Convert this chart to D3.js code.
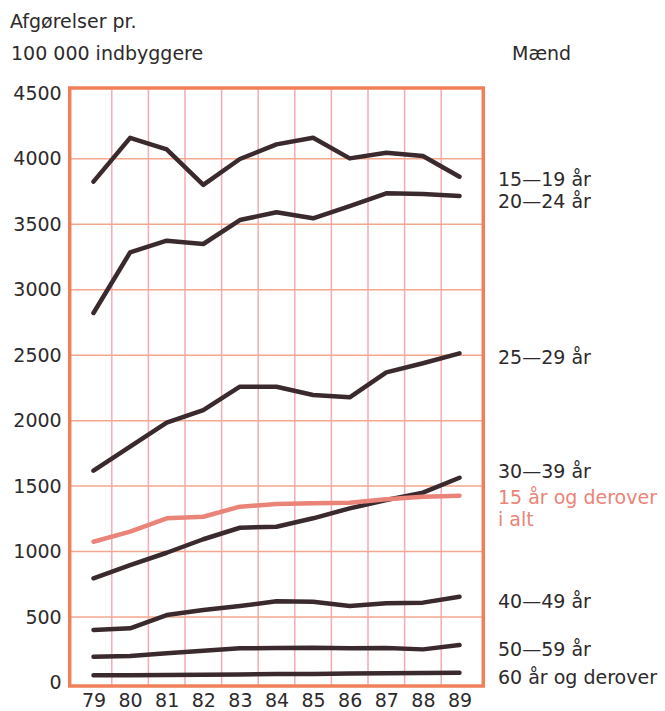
<!DOCTYPE html>
<html>
<head>
<meta charset="utf-8">
<script src="https://cdn.jsdelivr.net/npm/d3@7"></script>
<style>
  body { margin: 0; background: #fff; }
  text { font-family: "DejaVu Sans", sans-serif; fill: #2e2a2c; }
</style>
</head>
<body>
<div id="chart"></div>
<script>
// data
const years = [79, 80, 81, 82, 83, 84, 85, 86, 87, 88, 89]
const yTicks = [0, 500, 1000, 1500, 2000, 2500, 3000, 3500, 4000, 4500]

const age1519 = [3825, 4160, 4072, 3800, 3998, 4110, 4160, 4003, 4046, 4021, 3863]
const age2024 = [2822, 3285, 3374, 3349, 3532, 3591, 3545, 3639, 3736, 3731, 3715]
const age2529 = [1618, 1801, 1984, 2081, 2259, 2259, 2196, 2178, 2369, 2438, 2514]
const age3039 = [796, 897, 991, 1094, 1182, 1190, 1254, 1330, 1394, 1450, 1564]
const total15 = [1075, 1152, 1254, 1266, 1343, 1363, 1369, 1373, 1399, 1419, 1427]
const age4049 = [401, 414, 515, 554, 584, 620, 617, 584, 605, 610, 655]
const age5059 = [197, 202, 223, 243, 261, 263, 266, 261, 263, 253, 286]
const age60 = [55, 55, 57, 60, 62, 65, 65, 68, 70, 72, 74]

const seriesNames = ["15—19 år", "20—24 år", "25—29 år", "30—39 år", "15 år og derover", "40—49 år", "50—59 år", "60 år og derover"]
const seriesValues = [age1519, age2024, age2529, age3039, total15, age4049, age5059, age60]

const width = 665, height = 711
const dark = "#3a2a2e", pink = "#ea8478"
const fontSize = "19px"

const svg = d3.select("#chart").append("svg")
    .attr("width", width)
    .attr("height", height)

const x = d3.scaleLinear().domain([79, 89]).range([93.5, 459.5])
const y = d3.scaleLinear().domain([0, 4500]).range([682.5, 93.3])

const plotLeft = x(78.35), plotRight = x(89.65)
const plotTop = 88, plotBottom = 686

// gitter
const grid = svg.append("g")
grid.selectAll(".vline")
    .data(d3.range(79.5, 89, 1))
    .enter().append("line")
    .attr("x1", d => x(d)).attr("x2", d => x(d))
    .attr("y1", plotTop).attr("y2", plotBottom)
    .attr("stroke", "#f2aab6")
    .attr("stroke-width", 1.5)
grid.selectAll(".hline")
    .data(yTicks.slice(1, -1))
    .enter().append("line")
    .attr("x1", plotLeft).attr("x2", plotRight)
    .attr("y1", d => y(d)).attr("y2", d => y(d))
    .attr("stroke", "#f3a88e")
    .attr("stroke-width", 1.5)

// ramme
svg.append("rect")
    .attr("x", plotLeft).attr("y", plotTop)
    .attr("width", plotRight - plotLeft).attr("height", plotBottom - plotTop)
    .attr("fill", "none")
    .attr("stroke", "#f0805a")
    .attr("stroke-width", 3.5)

// linjer
const line = d3.line()
    .x((d, i) => x(years[i]))
    .y(d => y(d))

svg.append("g").selectAll("path")
    .data(seriesValues)
    .enter().append("path")
    .attr("d", line)
    .attr("fill", "none")
    .attr("stroke", (d, i) => i == 4 ? pink : dark)
    .attr("stroke-width", 4.5)
    .attr("stroke-linejoin", "round")
    .attr("stroke-linecap", "round")

// akser
const yAxis = svg.append("g")
    .attr("transform", `translate(${plotLeft},0)`)
    .call(d3.axisLeft(y).tickValues(yTicks).tickSize(0).tickPadding(8).tickFormat(d3.format("d")))
yAxis.select(".domain").remove()
yAxis.selectAll("text").style("font-size", fontSize).style("font-family", "DejaVu Sans")

const xAxis = svg.append("g")
    .attr("transform", "translate(0,693)")
    .call(d3.axisBottom(x).tickValues(years).tickSize(0).tickPadding(0).tickFormat(d => d))
xAxis.select(".domain").remove()
xAxis.selectAll("text").style("font-size", fontSize).style("font-family", "DejaVu Sans")

// tekster
const label = (t, tx, ty, color) => svg.append("text")
    .attr("x", tx).attr("y", ty)
    .attr("dy", "0.35em")
    .style("font-size", fontSize)
    .style("fill", color || "#2e2a2c")
    .text(t)

label("Afgørelser pr.", 10, 21)
label("100 000 indbyggere", 11, 53)
label("Mænd", 512, 53)

const labelY = [179, 201, 357, 471, 497, 601, 649, 677]
seriesNames.forEach((n, i) => label(n, 498, labelY[i], i == 4 ? pink : null))
label("i alt", 498, 519, pink)
</script>
</body>
</html>
